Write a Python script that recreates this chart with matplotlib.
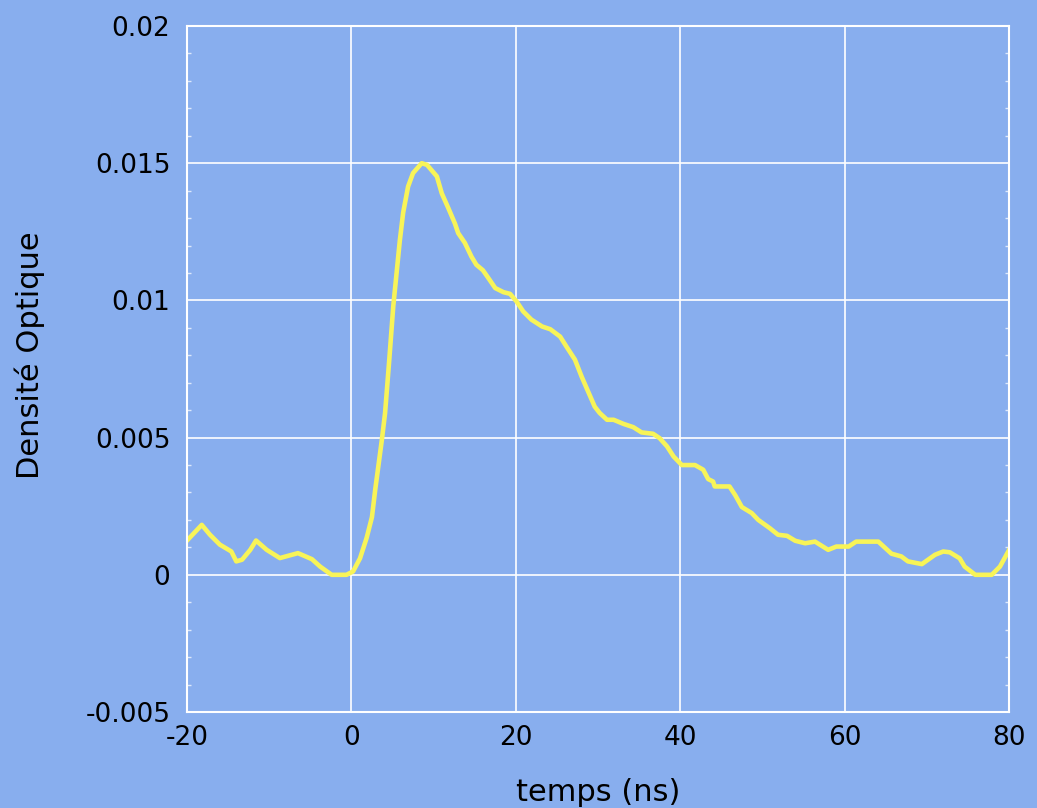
import matplotlib
matplotlib.use("Agg")
import matplotlib.pyplot as plt
from matplotlib.ticker import MultipleLocator

# temps (ns) / densite optique
temps = [-19.9, -18.2, -17.2, -16.0, -14.6, -14.0, -13.3, -12.3, -11.6, -10.3,
         -8.7, -6.5, -4.8, -3.8, -2.4, -0.6, 0.2, 1.05, 1.86, 2.5,
         2.9, 3.7, 4.1, 4.6, 5.1, 5.5, 5.9, 6.3, 6.9, 7.5,
         8.55, 9.2, 10.4, 11.0, 11.8, 12.6, 13.0, 13.8, 14.6, 15.2,
         16.0, 16.7, 17.5, 18.5, 19.3, 20.1, 20.9, 21.9, 23.2, 24.2,
         25.4, 26.2, 27.2, 28.0, 28.8, 29.6, 30.2, 31.1, 31.9, 33.1,
         34.3, 35.3, 36.7, 37.5, 38.4, 39.2, 40.2, 41.8, 42.8, 43.4,
         44.0, 44.2, 46.0, 46.7, 47.5, 48.7, 49.5, 50.9, 51.9, 53.0,
         54.0, 55.2, 56.4, 58.0, 59.0, 60.5, 61.4, 64.1, 65.7, 66.9,
         67.7, 69.4, 71.0, 72.0, 72.8, 74.0, 74.6, 75.9, 77.9, 78.9,
         80.0]
do = [0.00128, 0.00182, 0.00146, 0.0011, 0.00085, 0.00049, 0.00055, 0.00091, 0.00125, 0.00091,
      0.00061, 0.00079, 0.00057, 0.0003, 0.0, 0.0, 0.00012, 0.0006, 0.00135, 0.0021,
      0.0031, 0.0049, 0.0059, 0.0078, 0.0098, 0.011, 0.0122, 0.0132, 0.01415, 0.01464,
      0.0150, 0.01494, 0.01452, 0.0139, 0.01336, 0.0128, 0.01245, 0.0121, 0.0116, 0.0113,
      0.0111, 0.0108, 0.01045, 0.0103, 0.01024, 0.00996, 0.0096, 0.0093, 0.00905, 0.00895,
      0.00868, 0.0083, 0.00784, 0.00723, 0.00668, 0.00613, 0.0059, 0.00565, 0.00565, 0.0055,
      0.00538, 0.00519, 0.00514, 0.00498, 0.00468, 0.00431, 0.004, 0.004, 0.00383, 0.00349,
      0.0034, 0.00322, 0.00322, 0.0029, 0.00247, 0.00225, 0.002, 0.0017, 0.00146, 0.00142,
      0.00124, 0.00115, 0.00121, 0.00091, 0.00103, 0.00103, 0.00121, 0.00121, 0.00077, 0.00067,
      0.00049, 0.00039, 0.00073, 0.00085, 0.00082, 0.0006, 0.0003, 0.0, 0.0, 0.0003,
      0.0009]

xticks = [-20, 0, 20, 40, 60, 80]
yticks = [-0.005, 0, 0.005, 0.01, 0.015, 0.02]
ylabels = ['-0.005', '0', '0.005', '0.01', '0.015', '0.02']

bg = '#88aeee'
fig = plt.figure(figsize=(10.37, 8.08), dpi=100, facecolor=bg)
ax = fig.add_axes([0.1803, 0.1188, 0.7927, 0.849], facecolor=bg)

ax.plot(temps, do, color='#f8f458', lw=3.3, solid_joinstyle='round')

ax.set_xlim(-20, 80)
ax.set_ylim(-0.005, 0.02)
ax.set_xticks(xticks)
ax.set_xticklabels([str(t) for t in xticks])
ax.set_yticks(yticks)
ax.set_yticklabels(ylabels)
ax.yaxis.set_minor_locator(MultipleLocator(0.001))
ax.grid(True, which='major', color='white', lw=1.2)
for s in ax.spines.values():
    s.set_color('white')
    s.set_linewidth(1.5)
ax.tick_params(which='both', direction='in', labelsize=19, labelcolor='black')
ax.tick_params(which='major', length=0)
ax.tick_params(axis='y', which='minor', length=3, width=1, color='#dce8fb',
               left=True, right=True)
ax.tick_params(axis='y', pad=12)
ax.tick_params(axis='x', pad=9)

ax.set_xlabel('temps (ns)', fontsize=22, labelpad=20)
ax.set_ylabel('Densité Optique', fontsize=22)
ax.yaxis.set_label_coords(-0.173, 0.52)

fig.savefig('out.png', dpi=100, facecolor=bg)
